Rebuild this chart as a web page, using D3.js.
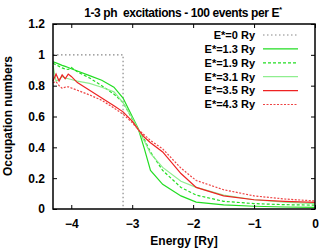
<!DOCTYPE html>
<html><head><meta charset="utf-8">
<script src="https://cdn.jsdelivr.net/npm/d3@7"></script>
<style>body{margin:0;background:#fff}svg{display:block}text{font-family:"Liberation Sans",Arial,sans-serif;font-weight:bold}</style>
</head><body><svg id="c" width="319" height="251"></svg>
<script>
const energy = [-4.3,-4.25,-4.2,-4.15,-4.1,-4.05,-4.0,-3.9,-3.7,-3.5,-3.3,-3.15,-3.0,-2.9,-2.8,-2.7,-2.5,-2.2,-1.95,-1.5,-1.0,-0.5,0];
const e13 = [0.955,0.948,0.94,0.932,0.925,0.918,0.91,0.895,0.865,0.835,0.79,0.72,0.6,0.52,0.39,0.25,0.16,0.085,0.045,0.027,0.018,0.013,0.011];
const e19 = [0.945,0.935,0.925,0.915,0.908,0.905,0.918,0.89,0.85,0.80,0.745,0.69,0.585,0.515,0.45,0.37,0.25,0.14,0.09,0.05,0.035,0.028,0.025];
const e31 = [0.93,0.83,0.84,0.86,0.85,0.845,0.84,0.83,0.815,0.79,0.76,0.69,0.59,0.515,0.44,0.36,0.27,0.18,0.14,0.09,0.06,0.045,0.035];
const e35 = [0.83,0.875,0.83,0.87,0.845,0.875,0.86,0.82,0.77,0.72,0.67,0.63,0.57,0.515,0.465,0.43,0.37,0.23,0.14,0.085,0.06,0.05,0.043];
const e43 = [0.82,0.826,0.80,0.783,0.79,0.793,0.785,0.77,0.74,0.705,0.655,0.615,0.56,0.515,0.48,0.445,0.39,0.265,0.185,0.125,0.085,0.065,0.052];
const stepX = [-4.3,-3.15,-3.15];
const stepY = [1,1,0];
const xTicks = [-4,-3,-2,-1,0];
const yTicks = [0,0.2,0.4,0.6,0.8,1,1.2];
const labels = ["E*=0 Ry","E*=1.3 Ry","E*=1.9 Ry","E*=3.1 Ry","E*=3.5 Ry","E*=4.3 Ry"];

const series = [
  {x: stepX, y: stepY, color:"#888", dash:"1.5,2.5", w:1.2},
  {x: energy, y: e13, color:"#22dd22", dash:null, w:1.2},
  {x: energy, y: e19, color:"#22dd22", dash:"3,2", w:1.2},
  {x: energy, y: e31, color:"#8fee8f", dash:null, w:1.2},
  {x: energy, y: e35, color:"#ee2222", dash:null, w:1.2},
  {x: energy, y: e43, color:"#ee4444", dash:"2,1.5", w:1.2}
];

const svg = d3.select("#c");
const L=53, R=315, T=24, B=209;
const x = d3.scaleLinear().domain([-4.3,0]).range([L,R]);
const y = d3.scaleLinear().domain([0,1.2]).range([B,T]);

const g = svg.append("g");
const line = d3.line().x(d=>x(d[0])).y(d=>y(d[1]));
series.forEach(s=>{
  g.append("path").attr("d", line(s.x.map((v,i)=>[v,s.y[i]])))
   .attr("fill","none").attr("stroke",s.color).attr("stroke-width",s.w)
   .attr("stroke-dasharray",s.dash);
});

const ax = (gen)=>gen.tickSizeInner(-4).tickSizeOuter(0).tickPadding(8);
const axB = svg.append("g").attr("transform",`translate(0,${B})`).call(ax(d3.axisBottom(x).tickValues(xTicks).tickFormat(d3.format("d"))));
const axT = svg.append("g").attr("transform",`translate(0,${T})`).call(ax(d3.axisTop(x).tickValues(xTicks).tickFormat("")));
const axL = svg.append("g").attr("transform",`translate(${L},0)`).call(ax(d3.axisLeft(y).tickValues(yTicks).tickFormat(d=>d3.format("~g")(d))));
const axR = svg.append("g").attr("transform",`translate(${R},0)`).call(ax(d3.axisRight(y).tickValues(yTicks).tickFormat("")));
[axB,axT,axL,axR].forEach(a=>{a.select(".domain").remove();a.selectAll("line").attr("stroke","#000").attr("stroke-width",1);a.selectAll("text").style("font-size","12px").attr("fill","#000");});
axB.selectAll("text").attr("dy","0.9em");

svg.append("rect").attr("x",L).attr("y",T).attr("width",R-L).attr("height",B-T)
  .attr("fill","none").attr("stroke","#000").attr("stroke-width",1.5);

labels.forEach((t,i)=>{
  const yy = 35 + i*13.9;
  svg.append("text").attr("x",255).attr("y",yy).attr("dy","0.35em").attr("text-anchor","end").style("font-size","11px").text(t);
  const s = series[i];
  svg.append("line").attr("x1",263).attr("x2",298).attr("y1",yy).attr("y2",yy)
    .attr("stroke",s.color).attr("stroke-width",s.w).attr("stroke-dasharray",s.dash);
});

const tt = svg.append("text").attr("x",183).attr("y",17).attr("text-anchor","middle").style("font-size","12px").style("letter-spacing","-0.4px");
tt.append("tspan").text("1-3 ph\u00a0 excitations - 100 events per E");
tt.append("tspan").attr("dy",-5).style("font-size","8px").text("*");
svg.append("text").attr("x",184).attr("y",245).attr("text-anchor","middle").style("font-size","12px").text("Energy [Ry]");
svg.append("text").attr("transform","translate(12,116) rotate(-90)").attr("text-anchor","middle").style("font-size","12px").text("Occupation numbers");
</script></body></html>
